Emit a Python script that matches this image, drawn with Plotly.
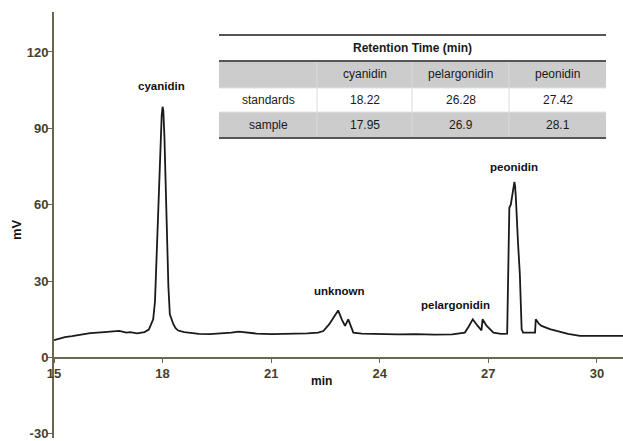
import plotly.graph_objects as go

# ---------------- data ----------------
time_min = [15.00, 15.10, 15.30, 15.50, 15.80, 16.00, 16.30, 16.60, 16.80, 17.00, 17.10, 17.30, 17.50,
            17.62, 17.70, 17.74, 17.79, 17.85, 17.91, 17.95, 17.975, 18.00, 18.02, 18.05, 18.11, 18.16,
            18.20, 18.25, 18.30, 18.36, 18.43, 18.60, 18.80, 19.00, 19.30, 19.60, 19.90, 20.10, 20.30,
            20.60, 21.00, 21.50, 22.00, 22.30, 22.44, 22.60, 22.75, 22.85, 22.95, 23.04, 23.13, 23.20,
            23.27, 23.50, 24.00, 24.50, 25.00, 25.50, 26.00, 26.35, 26.45, 26.57, 26.70, 26.81, 26.84,
            26.95, 27.14, 27.35, 27.52, 27.56, 27.58, 27.62, 27.67, 27.72, 27.74, 27.76, 27.82, 27.87,
            27.92, 27.96, 28.29, 28.31, 28.40, 28.47, 28.70, 28.89, 29.20, 29.53, 30.00, 30.72]
signal_mv = [6.8, 7.3, 8.0, 8.4, 9.0, 9.6, 9.9, 10.4, 10.5, 9.8, 10.0, 9.5, 10.0,
             11.0, 13.5, 15.0, 22.0, 45.0, 74.0, 88.0, 95.0, 98.5, 97.0, 87.0, 48.0, 28.0,
             17.0, 14.5, 13.0, 11.5, 10.6, 10.0, 9.6, 9.3, 9.2, 9.4, 9.8, 10.2, 9.8,
             9.4, 9.2, 9.3, 9.5, 9.8, 10.4, 13.0, 16.5, 18.5, 15.0, 12.4, 15.0, 12.0,
             9.8, 9.4, 9.2, 9.1, 9.2, 9.0, 9.1, 9.8, 12.0, 15.0, 12.5, 10.7, 15.0,
             12.5, 9.8, 9.3, 9.4, 40.0, 58.8, 60.0, 64.0, 69.0, 67.0, 62.7, 45.0, 32.7,
             11.1, 9.8, 9.8, 15.0, 13.2, 12.4, 11.2, 10.4, 9.3, 8.5, 8.4, 8.5]

peak_names = ["cyanidin", "unknown", "pelargonidin", "peonidin"]
peak_label_x = [17.98, 22.88, 26.10, 27.72]
peak_label_y = [106.5, 26.0, 20.8, 74.7]

x_ticks = [15, 18, 21, 24, 27, 30]
y_ticks = [-30, 0, 30, 60, 90, 120]

table_title = "Retention Time (min)"
table_columns = ["cyanidin", "pelargonidin", "peonidin"]
table_rows = ["standards", "sample"]
table_values = [["18.22", "26.28", "27.42"],
                ["17.95", "26.9", "28.1"]]

# ---------------- layout helpers ----------------
W, H = 623, 441
ML, MR, MT, MB = 54, 0, 12, 3
PW, PH = W - ML - MR, H - MT - MB
Y_MIN, Y_MAX = -31.6, 135.7
X_MIN, X_MAX = 15.0, 30.72

def px_x(px):
    return (px - ML) / PW

def px_y(py):
    return (H - MB - py) / PH

AXIS_COLOR = "#6b6650"
TICK_COLOR = "#463f2b"
FONT = "Arial, Liberation Sans, sans-serif"

fig = go.Figure()
fig.add_trace(go.Scatter(x=time_min, y=signal_mv, mode="lines",
                         line=dict(color="#1a1a1a", width=1.8), hoverinfo="skip",
                         showlegend=False))

def ann(x, y, text, size, bold=False, color="#222222", xref="paper", yref="paper", angle=0):
    f = dict(family=FONT, size=size, color=color)
    if bold:
        f["weight"] = "bold"
    return dict(x=x, y=y, xref=xref, yref=yref, text=text, showarrow=False,
                xanchor="center", yanchor="middle", textangle=angle, font=f)

annotations = []
for name, lx, ly in zip(peak_names, peak_label_x, peak_label_y):
    annotations.append(ann(lx, ly, name, 11.5, True, "#111111", "x", "y"))

# axis titles
annotations.append(ann(px_x(321), px_y(381), "min", 12, True, "#111111"))
annotations.append(ann(px_x(16), px_y(230), "mV", 13, True, "#111111", angle=-90))

# ---------------- table (drawn with shapes) ----------------
shapes = []
tx0, tx1 = 219, 606
col_edges = [219, 317, 412, 509, 606]
GRAY = "#cccccc"

for r0, r1, fill in [(35, 61, "white"), (61, 88, GRAY), (88, 112, "white"), (112, 138, GRAY)]:
    shapes.append(dict(type="rect", xref="paper", yref="paper", x0=px_x(tx0), x1=px_x(tx1),
                       y0=px_y(r1), y1=px_y(r0), fillcolor=fill, line=dict(width=0), layer="above"))
for cx in col_edges[1:-1]:
    shapes.append(dict(type="line", xref="paper", yref="paper", x0=px_x(cx), x1=px_x(cx),
                       y0=px_y(138), y1=px_y(61), line=dict(color="#dadada", width=1), layer="above"))
for ry in [88, 112]:
    shapes.append(dict(type="line", xref="paper", yref="paper", x0=px_x(tx0), x1=px_x(tx1),
                       y0=px_y(ry), y1=px_y(ry), line=dict(color="#e2e2e2", width=1), layer="above"))
for ry in [35, 61, 138]:
    shapes.append(dict(type="line", xref="paper", yref="paper", x0=px_x(tx0), x1=px_x(tx1),
                       y0=px_y(ry), y1=px_y(ry), line=dict(color="#555555", width=2), layer="above"))

annotations.append(ann(px_x((tx0 + tx1) / 2), px_y(48), table_title, 12, True, "#1a1a1a"))
centers = [(col_edges[i] + col_edges[i + 1]) / 2 for i in range(4)]
for ci, col in enumerate(table_columns):
    annotations.append(ann(px_x(centers[ci + 1]), px_y(74.5), col, 12, False, "#1a1a1a"))
row_mid = [100, 125]
for ri, rname in enumerate(table_rows):
    annotations.append(ann(px_x(centers[0]), px_y(row_mid[ri]), rname, 12, False, "#1a1a1a"))
    for ci, val in enumerate(table_values[ri]):
        annotations.append(ann(px_x(centers[ci + 1]), px_y(row_mid[ri]), val, 12, False, "#1a1a1a"))

fig.update_layout(
    width=W, height=H,
    margin=dict(l=ML, r=MR, t=MT, b=MB, pad=0, autoexpand=False),
    plot_bgcolor="white", paper_bgcolor="white",
    showlegend=False,
    font=dict(family=FONT),
    xaxis=dict(range=[X_MIN, X_MAX], tickvals=x_ticks, ticktext=[str(v) for v in x_ticks],
               showgrid=False, zeroline=False, showline=True, linecolor=AXIS_COLOR, linewidth=2,
               ticks="outside", ticklen=4, tickcolor=AXIS_COLOR, tickwidth=1,
               anchor="free", position=(0 - Y_MIN) / (Y_MAX - Y_MIN),
               tickfont=dict(family=FONT, size=13, color=TICK_COLOR, weight="bold")),
    yaxis=dict(range=[Y_MIN, Y_MAX], tickvals=y_ticks, ticktext=[str(v) for v in y_ticks],
               showgrid=False, zeroline=False, showline=True, linecolor=AXIS_COLOR, linewidth=2,
               ticks="outside", ticklen=5, tickcolor=AXIS_COLOR, tickwidth=1,
               ticklabeloverflow="allow", ticklabelstandoff=-4,
               tickfont=dict(family=FONT, size=13, color=TICK_COLOR, weight="bold")),
    shapes=shapes,
    annotations=annotations,
)

fig.write_html("out.html", config={"displayModeBar": False},
               post_script="document.body.style.margin='0';")
